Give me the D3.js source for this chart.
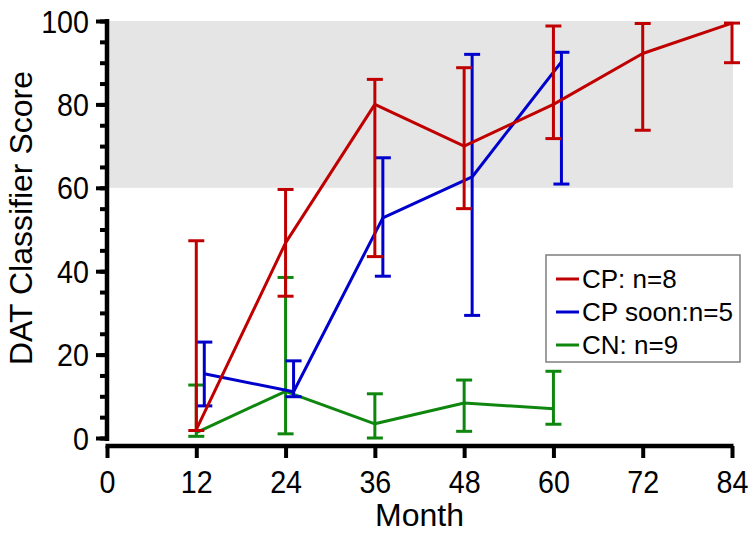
<!DOCTYPE html>
<html>
<head>
<meta charset="utf-8">
<script src="https://cdn.jsdelivr.net/npm/d3@7"></script>
<style>
  html, body { margin: 0; padding: 0; background: #fff; }
  svg { display: block; }
  text { font-family: "Liberation Sans", Arial, sans-serif; fill: #000; }
</style>
</head>
<body>
<svg id="chart" width="756" height="537"></svg>
<script>
// ---- data ----
const cpMonths   = [12, 24, 36, 48, 60, 72, 84];
const cpMean     = [2.0, 46.8, 80.0, 70.0, 80.0, 92.2, 99.5];
const cpLow      = [1.8, 34.0, 43.5, 55.0, 71.8, 73.8, 90.0];
const cpHigh     = [47.3, 59.6, 86.0, 88.8, 98.8, 99.4, 99.5];

const soonMonths = [12, 24, 36, 48, 60];
const soonMean   = [15.4, 11.1, 52.8, 62.6, 90.2];
const soonLow    = [7.7, 9.9, 38.8, 29.4, 60.9];
const soonHigh   = [23.0, 18.5, 67.2, 92.0, 92.5];

const cnMonths   = [12, 24, 36, 48, 60];
const cnMean     = [1.3, 11.2, 3.4, 8.4, 7.0];
const cnLow      = [0.4, 1.0, 0.0, 1.6, 3.3];
const cnHigh     = [12.7, 38.5, 10.6, 13.9, 16.0];

const xTicks = [0, 12, 24, 36, 48, 60, 72, 84];
const yTicks = [0, 20, 40, 60, 80, 100];
const yMinorTicks = d3.range(0, 101, 5);
const bandRange = [60, 100];

const legendLabels = ["CP: n=8", "CP soon:n=5", "CN: n=9"];
const xTitle = "Month";
const yTitle = "DAT Classifier Score";

// ---- layout ----
const svg = d3.select("#chart");
const x = d3.scaleLinear().domain([0, 84]).range([107, 732]);
const y = d3.scaleLinear().domain([0, 100]).range([438, 21]);
const xAxisY = 446;
const colors = { cp: "#c00000", soon: "#0000cc", cn: "#0f870f" };

// shaded band
svg.append("rect")
  .attr("x", x(0)).attr("y", y(bandRange[1]))
  .attr("width", x(84) - x(0) + 1)
  .attr("height", y(bandRange[0]) - y(bandRange[1]))
  .attr("fill", "#e5e5e5");

// series
const series = [
  { key: "cn", months: cnMonths, mean: cnMean, low: cnLow, high: cnHigh, dodge: 0 },
  { key: "soon", months: soonMonths, mean: soonMean, low: soonLow, high: soonHigh, dodge: 8 },
  { key: "cp", months: cpMonths, mean: cpMean, low: cpLow, high: cpHigh, dodge: 0 }
];

const capHalf = 8;
series.forEach(s => {
  const g = svg.append("g");
  const pts = s.months.map((m, i) => ({ px: x(m) + s.dodge, mean: s.mean[i], low: s.low[i], high: s.high[i] }));
  g.append("path")
    .datum(pts)
    .attr("fill", "none")
    .attr("stroke", colors[s.key])
    .attr("stroke-width", 3)
    .attr("stroke-linejoin", "round")
    .attr("d", d3.line().x(d => d.px).y(d => y(d.mean)));
  const eb = g.selectAll(".eb").data(pts).enter().append("g")
    .attr("stroke", colors[s.key]).attr("stroke-width", 3);
  eb.append("line")
    .attr("x1", d => d.px).attr("x2", d => d.px)
    .attr("y1", d => y(d.low)).attr("y2", d => y(d.high));
  eb.append("line")
    .attr("x1", d => d.px - capHalf).attr("x2", d => d.px + capHalf)
    .attr("y1", d => y(d.low)).attr("y2", d => y(d.low));
  eb.append("line")
    .attr("x1", d => d.px - capHalf).attr("x2", d => d.px + capHalf)
    .attr("y1", d => y(d.high)).attr("y2", d => y(d.high));
});

function condense(sel, k) {
  sel.each(function () {
    const w = this.getComputedTextLength();
    d3.select(this).attr("textLength", w * k).attr("lengthAdjust", "spacingAndGlyphs");
  });
}

// y axis
const yAxisG = svg.append("g").attr("transform", `translate(${x(0)},0)`);
yAxisG.call(d3.axisLeft(y).tickValues(yMinorTicks).tickSize(7).tickFormat(""))
  .call(g => g.select(".domain").remove())
  .call(g => g.selectAll(".tick line").attr("stroke", "#000").attr("stroke-width", 4));
const yMajor = svg.append("g").attr("transform", `translate(${x(0)},0)`);
yMajor.call(d3.axisLeft(y).tickValues(yTicks).tickSize(11).tickPadding(7).tickSizeOuter(0))
  .call(g => g.select(".domain").attr("stroke-width", 4.5).attr("d", `M0,${y(100) - 2}V${y(0) + 3}`))
  .call(g => g.selectAll(".tick line").attr("stroke", "#000").attr("stroke-width", 4))
  .call(g => g.selectAll(".tick text").attr("font-size", 31.5).attr("font-family", "Liberation Sans, Arial, sans-serif").attr("dy", "0.35em"));
condense(yMajor.selectAll(".tick text"), 0.91);

// x axis
const xAxisG = svg.append("g").attr("transform", `translate(0,${xAxisY})`);
xAxisG.call(d3.axisBottom(x).tickValues(xTicks).tickSize(12).tickPadding(13).tickSizeOuter(0))
  .call(g => g.select(".domain").attr("stroke-width", 4.5).attr("d", `M${x(0) - 1.5},0H${x(84) + 1.5}`))
  .call(g => g.selectAll(".tick line").attr("stroke", "#000").attr("stroke-width", 4))
  .call(g => g.selectAll(".tick text").attr("font-size", 31.5).attr("font-family", "Liberation Sans, Arial, sans-serif"));
condense(xAxisG.selectAll(".tick text"), 0.91);

// axis titles
svg.append("text")
  .attr("x", (x(0) + x(84)) / 2).attr("y", 526)
  .attr("text-anchor", "middle").attr("font-size", 32)
  .text(xTitle);
svg.append("text")
  .attr("transform", `translate(32,218) rotate(-90)`)
  .attr("text-anchor", "middle").attr("font-size", 32)
  .text(yTitle);

// legend
const lg = svg.append("g");
lg.append("rect")
  .attr("x", 546).attr("y", 255).attr("width", 194).attr("height", 107)
  .attr("fill", "#fff").attr("stroke", "#7f7f7f").attr("stroke-width", 1.5);
const legendKeys = ["cp", "soon", "cn"];
legendKeys.forEach((k, i) => {
  const by = 288 + i * 33;
  lg.append("line")
    .attr("x1", 556).attr("x2", 579)
    .attr("y1", by - 9).attr("y2", by - 9)
    .attr("stroke", colors[k]).attr("stroke-width", 3);
  const t = lg.append("text")
    .attr("x", 582).attr("y", by)
    .attr("font-size", 26)
    .text(legendLabels[i]);
  if (k === "soon") t.attr("textLength", 151).attr("lengthAdjust", "spacingAndGlyphs");
});
</script>
</body>
</html>
